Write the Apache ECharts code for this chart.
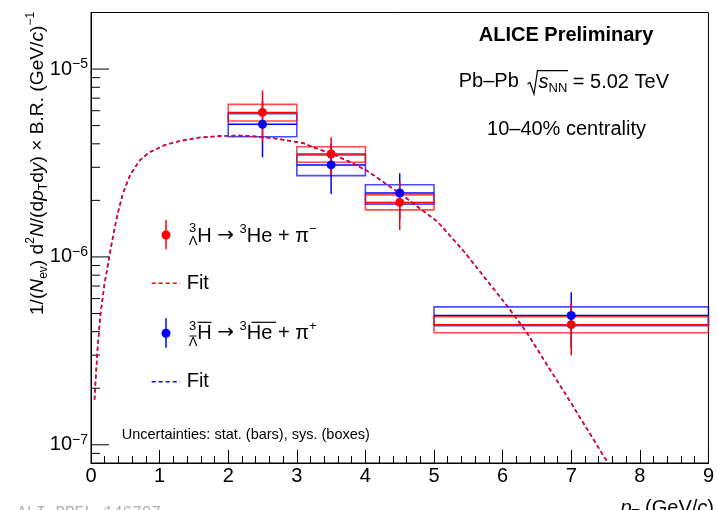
<!DOCTYPE html>
<html>
<head>
<meta charset="utf-8">
<script src="https://cdn.jsdelivr.net/npm/echarts@6/dist/echarts.min.js"></script>
<style>
  html, body { margin: 0; padding: 0; background: #fff; }
  #chart { width: 717px; height: 510px; }
</style>
</head>
<body>
<div id="chart"></div>
<script>
const FONT = '"Liberation Sans", Arial, Helvetica, sans-serif';

// pT bins (GeV/c)
const binLow    = [2, 3, 4, 5];
const binHigh   = [3, 4, 5, 9];
const binCenter = [2.5, 3.5, 4.5, 7];

// Hypertriton -> 3He + pi-
const htYield   = [5.88e-6, 3.53e-6, 1.95e-6, 4.36e-7];
const htStat    = [1.80e-6, 0.80e-6, 0.56e-6, 1.36e-7];
const htSysLow  = [5.29e-6, 3.19e-6, 1.78e-6, 3.95e-7];
const htSysHigh = [6.49e-6, 3.86e-6, 2.14e-6, 4.80e-7];

// Anti-hypertriton -> anti-3He + pi+
const ahtYield   = [5.08e-6, 3.09e-6, 2.19e-6, 4.88e-7];
const ahtStat    = [1.69e-6, 0.93e-6, 0.60e-6, 1.60e-7];
const ahtSysLow  = [4.36e-6, 2.71e-6, 1.91e-6, 4.30e-7];
const ahtSysHigh = [5.79e-6, 3.49e-6, 2.42e-6, 5.42e-7];

// Spectrum fits (both fits lie on top of each other)
const fitPt  = [0.051, 0.094, 0.137, 0.195, 0.253, 0.311, 0.383, 0.47, 0.571, 0.715, 0.86, 1.077, 1.293, 1.582, 1.871, 2.16, 2.42, 2.666, 2.912, 3.10, 3.244, 3.49, 3.779, 4.025, 4.502, 5.051, 5.44, 6.077, 6.351, 6.958, 7.536];
const fitHt  = [1.74e-7, 3.2e-7, 4.9e-7, 7.1e-7, 9.4e-7, 1.23e-6, 1.67e-6, 2.2e-6, 2.73e-6, 3.28e-6, 3.62e-6, 3.94e-6, 4.14e-6, 4.32e-6, 4.40e-6, 4.43e-6, 4.375e-6, 4.28e-6, 4.14e-6, 4.025e-6, 3.83e-6, 3.56e-6, 3.2e-6, 2.87e-6, 2.18e-6, 1.54e-6, 1.067e-6, 5.42e-7, 3.96e-7, 1.76e-7, 8.0e-8];
const fitAht = [1.74e-7, 3.2e-7, 4.9e-7, 7.1e-7, 9.4e-7, 1.23e-6, 1.67e-6, 2.2e-6, 2.73e-6, 3.28e-6, 3.62e-6, 3.94e-6, 4.14e-6, 4.32e-6, 4.40e-6, 4.43e-6, 4.375e-6, 4.28e-6, 4.14e-6, 4.025e-6, 3.83e-6, 3.56e-6, 3.2e-6, 2.87e-6, 2.18e-6, 1.54e-6, 1.067e-6, 5.42e-7, 3.96e-7, 1.76e-7, 8.0e-8];

// Axis ranges and log-axis tick positions
const xRange = [0, 9];
const yRange = [8e-8, 2e-5];
const yMajorTicks = [1e-7, 1e-6, 1e-5];
const yMinorTicks = [9e-8, 2e-7, 3e-7, 4e-7, 5e-7, 6e-7, 7e-7, 8e-7, 9e-7,
                     2e-6, 3e-6, 4e-6, 5e-6, 6e-6, 7e-6, 8e-6, 9e-6];

const RED = '#ff0000';
const BLUE = '#0000ff';

function boxData(sysLo, sysHi, val) {
  return binLow.map((lo, i) => [lo, binHigh[i], sysLo[i], sysHi[i], val[i]]);
}
function errData(val, err) {
  return binCenter.map((x, i) => [x, val[i] - err[i], val[i] + err[i]]);
}
function pts(val) { return binCenter.map((x, i) => [x, val[i]]); }
function fitData(vals) { return fitPt.map((x, i) => [x, vals[i]]); }

function boxSeries(data, color) {
  return {
    type: 'custom',
    data: data,
    encode: { x: [0, 1], y: [2, 3, 4] },
    z: 2,
    renderItem: function (params, api) {
      const tl = api.coord([api.value(0), api.value(3)]);
      const br = api.coord([api.value(1), api.value(2)]);
      const cl = api.coord([api.value(0), api.value(4)]);
      const cr = api.coord([api.value(1), api.value(4)]);
      return {
        type: 'group',
        children: [
          { type: 'rect', shape: { x: tl[0], y: tl[1], width: br[0] - tl[0], height: br[1] - tl[1] },
            style: { fill: 'none', stroke: color, lineWidth: 1.6, opacity: 0.7 } },
          { type: 'line', shape: { x1: cl[0], y1: cl[1], x2: cr[0], y2: cr[1] },
            style: { stroke: color, lineWidth: 1.5 } }
        ]
      };
    }
  };
}

function errSeries(data, color) {
  return {
    type: 'custom',
    data: data,
    encode: { x: 0, y: [1, 2] },
    z: 4,
    renderItem: function (params, api) {
      const a = api.coord([api.value(0), api.value(1)]);
      const b = api.coord([api.value(0), api.value(2)]);
      return { type: 'line', shape: { x1: a[0], y1: a[1], x2: b[0], y2: b[1] },
               style: { stroke: color, lineWidth: 1.5 } };
    }
  };
}

function tickSeries(vals, len) {
  return {
    type: 'custom',
    data: vals.map(v => [xRange[0], v]),
    encode: { x: 0, y: 1 },
    z: 1,
    silent: true,
    renderItem: function (params, api) {
      const p = api.coord([api.value(0), api.value(1)]);
      return { type: 'line', shape: { x1: p[0], y1: p[1], x2: p[0] + len, y2: p[1] },
               style: { stroke: '#000', lineWidth: 1 } };
    }
  };
}

function fitSeries(vals, color) {
  return {
    type: 'line',
    data: fitData(vals),
    showSymbol: false,
    symbol: 'none',
    smooth: false,
    z: 3,
    lineStyle: { color: color, width: 1.5, type: [4, 3] }
  };
}

function scatterSeries(val, color) {
  return {
    type: 'scatter',
    data: pts(val),
    symbol: 'circle',
    symbolSize: 9,
    z: 5,
    itemStyle: { color: color, opacity: 1 }
  };
}

function txt(x, y, text, opts) {
  const o = opts || {};
  const align = o.align || 'left';
  const valign = o.valign || 'middle';
  return {
    type: 'text', x: x, y: y, rotation: o.rotation || 0, z: 100,
    style: Object.assign({
      text: text,
      fill: o.color || '#000',
      fontFamily: o.family || FONT,
      fontSize: o.size || 20,
      fontWeight: o.weight || 'normal',
      fontStyle: o.style || 'normal',
      align: align, textAlign: align,
      verticalAlign: valign, textVerticalAlign: valign
    }, o.extra || {})
  };
}

function line(x1, y1, x2, y2, color, width, dash) {
  return {
    type: 'line', z: 100,
    shape: { x1: x1, y1: y1, x2: x2, y2: y2 },
    style: { stroke: color, lineWidth: width || 1, lineDash: dash || null }
  };
}

function richSet(size) {
  const s = size || 20;
  const lh = Math.round(s * 1.3);
  const small = Math.round(s * 0.65);
  return {
    i:   { fontStyle: 'italic', fontSize: s, fontFamily: FONT, lineHeight: lh },
    n:   { fontSize: s, fontFamily: FONT, lineHeight: lh },
    ar:  { fontSize: s, fontFamily: '"DejaVu Sans", sans-serif', lineHeight: lh },
    sub: { fontSize: small, fontFamily: FONT, verticalAlign: 'bottom', lineHeight: small },
    sup: { fontSize: small, fontFamily: FONT, verticalAlign: 'top', lineHeight: small }
  };
}
const rich20 = richSet(20);
const rich19 = richSet(19.2);

const graphics = [
  // headline block
  txt(566, 35, 'ALICE Preliminary', { align: 'center', weight: 'bold', size: 20 }),
  txt(458.7, 81, 'Pb\u2013Pb', { size: 20 }),
  { type: 'polyline', z: 100, shape: { points: [[527.5, 84], [530, 82.5], [534, 94], [537.5, 70.7], [568, 70.7]] },
    style: { stroke: '#000', lineWidth: 1.2, fill: null } },
  txt(538.5, 82, '{i|s}{sub|NN}{n| = 5.02 TeV}', { extra: { rich: rich20, lineHeight: 26 } }),
  txt(566.5, 129, '10\u201340% centrality', { align: 'center', size: 20 }),

  // legend: hypertriton
  line(166, 220, 166, 249.3, RED, 1.5),
  { type: 'circle', z: 100, shape: { cx: 166, cy: 235, r: 4.5 }, style: { fill: RED } },
  txt(192.5, 228, '3', { align: 'center', size: 13 }),
  txt(193, 241.5, '\u039b', { align: 'center', size: 13 }),
  txt(197.3, 236, '{n|H }{ar|\u2192}{n| }{sup|3}{n|He + \u03c0}{sup|\u2212}', { extra: { rich: rich20, lineHeight: 26 } }),
  line(151.7, 283.3, 180, 283.3, RED, 1.5, [4, 3]),
  txt(186.7, 283.5, 'Fit', { size: 20 }),

  // legend: anti-hypertriton
  line(166, 318.3, 166, 347.7, BLUE, 1.5),
  { type: 'circle', z: 100, shape: { cx: 166, cy: 333.3, r: 4.5 }, style: { fill: BLUE } },
  txt(192.5, 326, '3', { align: 'center', size: 13 }),
  line(189.5, 336, 196.5, 336, '#000', 1),
  txt(193, 342, '\u039b', { align: 'center', size: 13 }),
  txt(197.3, 333, '{n|H }{ar|\u2192}{n| }{sup|3}{n|He + \u03c0}{sup|+}', { extra: { rich: rich20, lineHeight: 26 } }),
  line(197.5, 322.3, 211.5, 322.3, '#000', 1.2),
  line(251.5, 322.3, 276, 322.3, '#000', 1.2),
  line(151.7, 381.7, 180, 381.7, BLUE, 1.5, [4, 3]),
  txt(186.7, 381.5, 'Fit', { size: 20 }),

  // note on uncertainties
  txt(121.7, 435, 'Uncertainties: stat. (bars), sys. (boxes)', { size: 14.5 }),

  // axis titles
  txt(37.5, 163.5, '{n|1/(}{i|N}{sub|ev}{n|) d}{sup|2}{i|N}{n|/(d}{i|p}{sub|T}{n|d}{i|y}{n|) \u00d7 B.R. (GeV/}{i|c}{n|)}{sup|\u22121}',
      { align: 'center', rotation: Math.PI / 2, size: 19.2, extra: { rich: rich19, lineHeight: 25 } }),
  txt(714, 508, '{i|p}{sub|T}{n| (GeV/}{i|c}{n|)}', { align: 'right', extra: { rich: rich20, lineHeight: 26 } }),

  // figure id
  txt(17, 505, 'ALI-PREL-146707', { family: '"Liberation Mono", "DejaVu Sans Mono", monospace', size: 16, color: '#b0b0b0', valign: 'top' })
];

const chart = echarts.init(document.getElementById('chart'), null, { renderer: 'canvas' });
chart.setOption({
  animation: false,
  backgroundColor: '#fff',
  grid: { left: 91, right: 4, top: 12.5, bottom: 47, show: true, borderColor: '#000', borderWidth: 1, backgroundColor: 'transparent' },
  xAxis: {
    type: 'value', min: xRange[0], max: xRange[1], interval: 1,
    axisLine: { show: true, lineStyle: { color: '#000', width: 1 } },
    axisTick: { show: true, inside: true, length: 13, lineStyle: { color: '#000', width: 1 } },
    minorTick: { show: true, splitNumber: 5, length: 7, lineStyle: { color: '#000', width: 1 } },
    splitLine: { show: false },
    axisLabel: { color: '#000', fontFamily: FONT, fontSize: 20, margin: 3 }
  },
  yAxis: {
    type: 'log', logBase: 10, min: yRange[0], max: yRange[1],
    axisLine: { show: true, lineStyle: { color: '#000', width: 1 } },
    axisTick: { show: false },
    splitLine: { show: false },
    axisLabel: {
      margin: 3,
      formatter: function (v) {
        const l = Math.log10(v);
        const e = Math.round(l);
        if (Math.abs(l - e) > 1e-6) return '';
        return '{b|10}{e|' + (e < 0 ? '\u2212' : '') + Math.abs(e) + '}';
      },
      rich: {
        b: { fontFamily: FONT, fontSize: 20, color: '#000', lineHeight: 24 },
        e: { fontFamily: FONT, fontSize: 14, color: '#000', lineHeight: 14, verticalAlign: 'top' }
      }
    }
  },
  series: [
    tickSeries(yMajorTicks, 18),
    tickSeries(yMinorTicks, 9),
    boxSeries(boxData(ahtSysLow, ahtSysHigh, ahtYield), BLUE),
    boxSeries(boxData(htSysLow, htSysHigh, htYield), RED),
    fitSeries(fitAht, BLUE),
    fitSeries(fitHt, RED),
    errSeries(errData(ahtYield, ahtStat), BLUE),
    errSeries(errData(htYield, htStat), RED),
    scatterSeries(ahtYield, BLUE),
    scatterSeries(htYield, RED)
  ],
  graphic: { elements: graphics }
});
</script>
</body>
</html>
